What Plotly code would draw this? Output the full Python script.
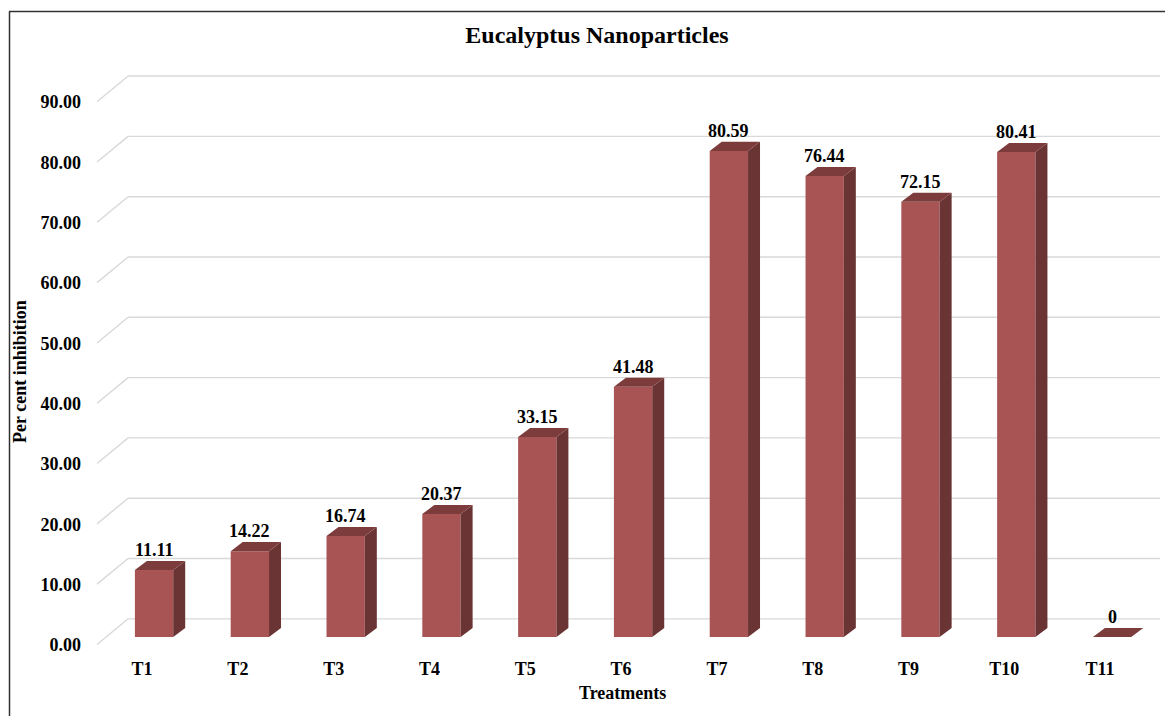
import plotly.graph_objects as go

# ---- data ----
treatments = ["T1", "T2", "T3", "T4", "T5", "T6", "T7", "T8", "T9", "T10", "T11"]
inhibition = [11.11, 14.22, 16.74, 20.37, 33.15, 41.48, 80.59, 76.44, 72.15, 80.41, 0]
y_ticks = [0, 10, 20, 30, 40, 50, 60, 70, 80, 90]

# ---- styling / geometry ----
W, H = 1165, 716
M_L, M_R, M_T, M_B = 87, 5, 64, 64
X_RANGE = [-0.7, 10.5]
Y_RANGE = [-2.5, 95]
FONT = "Liberation Serif"
FRONT = "#A85454"
SIDE = "#6B3434"
TOP = "#7D3C3C"
GRID = "#D9D9D9"

HALF_W = 0.2      # half width of the bar face (category units)
DEPTH_X = 0.125   # oblique depth offset, category units
DEPTH_Y = 1.5     # oblique depth offset, value units
WALL_Y = 3.0      # back wall offset of gridlines, value units
FLOOR_Y = -1.25   # front edge of the wall diagonals, value units
WALL_X0, WALL_X1 = -0.595, -0.271

xs = list(range(len(treatments)))

fig = go.Figure()

# front faces
fig.add_trace(go.Bar(
    x=xs, y=inhibition, width=2 * HALF_W,
    marker=dict(color=FRONT, line=dict(width=0)),
    hoverinfo="skip", showlegend=False,
))

# side and top faces of the columns
side_x, side_y, top_x, top_y = [], [], [], []
for x, v in zip(xs, inhibition):
    side_x += [x + HALF_W, x + HALF_W, x + HALF_W + DEPTH_X, x + HALF_W + DEPTH_X, x + HALF_W, None]
    side_y += [0, v, v + DEPTH_Y, DEPTH_Y, 0, None]
    top_x += [x - HALF_W, x + HALF_W, x + HALF_W + DEPTH_X, x - HALF_W + DEPTH_X, x - HALF_W, None]
    top_y += [v, v, v + DEPTH_Y, v + DEPTH_Y, v, None]

fig.add_trace(go.Scatter(
    x=side_x, y=side_y, mode="lines", fill="toself", fillcolor=SIDE,
    line=dict(width=0, color=SIDE), hoverinfo="skip", showlegend=False,
))
fig.add_trace(go.Scatter(
    x=top_x, y=top_y, mode="lines", fill="toself", fillcolor=TOP,
    line=dict(width=0, color=TOP), hoverinfo="skip", showlegend=False,
))

# value labels
for x, v in zip(xs, inhibition):
    fig.add_annotation(
        x=x, y=v, text=f"{v:g}", showarrow=False, yanchor="middle", yshift=20,
        font=dict(family=FONT, size=18, color="black", weight="bold"),
    )

# gridlines on the back wall with the oblique lead-in from the front
shapes = []
for g in y_ticks:
    shapes.append(dict(type="line", xref="x", yref="y", layer="below",
                       x0=WALL_X0, y0=g + FLOOR_Y, x1=WALL_X1, y1=g + WALL_Y,
                       line=dict(color=GRID, width=1.4)))
    shapes.append(dict(type="line", xref="x", yref="y", layer="below",
                       x0=WALL_X1, y0=g + WALL_Y, x1=X_RANGE[1], y1=g + WALL_Y,
                       line=dict(color=GRID, width=1.4)))

# outer frame (top and left edges)
plot_w = W - M_L - M_R
plot_h = H - M_T - M_B
def px(xp):
    return (xp - M_L) / plot_w
def py(yp):
    return (H - M_B - yp) / plot_h
shapes.append(dict(type="line", xref="paper", yref="paper",
                   x0=px(9), y0=py(11.5), x1=px(W + 5), y1=py(11.5),
                   line=dict(color="#333333", width=1.5)))
shapes.append(dict(type="line", xref="paper", yref="paper",
                   x0=px(9.5), y0=py(11.5), x1=px(9.5), y1=py(H + 5),
                   line=dict(color="#333333", width=1.5)))

fig.update_layout(
    width=W, height=H,
    margin=dict(l=M_L, r=M_R, t=M_T, b=M_B),
    paper_bgcolor="white", plot_bgcolor="white",
    shapes=shapes,
    showlegend=False,
    title=dict(text="Eucalyptus Nanoparticles", xref="container", x=597 / W,
               xanchor="center", yref="container", y=1 - 35 / H, yanchor="middle",
               font=dict(family=FONT, size=24, color="black", weight="bold")),
    xaxis=dict(range=X_RANGE, tickvals=xs, ticktext=treatments,
               showgrid=False, zeroline=False, showline=False, ticks="",
               ticklabelshift=-12, ticklabelstandoff=4,
               tickfont=dict(family=FONT, size=18, color="black", weight="bold")),
    yaxis=dict(range=Y_RANGE, tickvals=y_ticks, tickformat=".2f",
               showgrid=False, zeroline=False, showline=False, ticks="",
               ticklabelshift=8, ticklabelstandoff=5,
               tickfont=dict(family=FONT, size=18, color="black", weight="bold")),
)

fig.add_annotation(
    text="Per cent inhibition", xref="paper", yref="paper",
    x=px(20), y=py(372), textangle=-90, showarrow=False,
    xanchor="center", yanchor="middle",
    font=dict(family=FONT, size=18, color="black", weight="bold"),
)
fig.add_annotation(
    text="Treatments", xref="paper", yref="paper",
    x=px(622), y=py(693), showarrow=False,
    xanchor="center", yanchor="middle",
    font=dict(family=FONT, size=18, color="black", weight="bold"),
)

fig.write_html("out.html")
